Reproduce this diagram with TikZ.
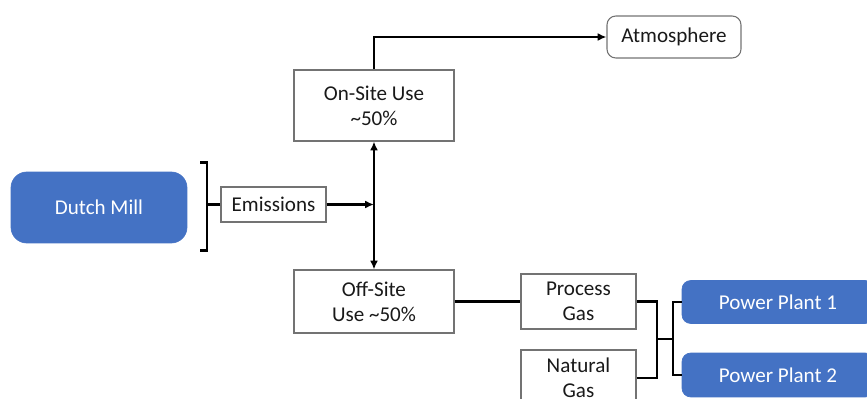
\documentclass[tikz,border=0pt]{standalone}
\usepackage{fontspec}
\setmainfont{Carlito}
\usetikzlibrary{arrows.meta}
\definecolor{millblue}{HTML}{4472C4}
\begin{document}
\begin{tikzpicture}[x=0.02cm,y=-0.02cm,
    every node/.style={font=\fontsize{12}{14.2}\selectfont, align=center, inner sep=0pt},
    box/.style={draw=black!55, line width=0.6pt, text=black!90},
    bluebox/.style={fill=millblue, draw=millblue, text=white, rounded corners=5pt},
    conn/.style={line width=1.4pt},
    arr/.style={conn, -{Latex[length=5pt,width=4.5pt]}},
    darr/.style={conn, {Latex[length=5pt,width=4.5pt]}-{Latex[length=5pt,width=4.5pt]}}]
        \useasboundingbox (0,0) rectangle (867,399);
        \clip (0,0) rectangle (867,399);

        % The Source (Mill and its Emissions)
        \node[bluebox, rounded corners=9pt, minimum width=3.52cm, minimum height=1.42cm] (mill) at (99,207.5) {Dutch Mill};
        \node[box, minimum width=2.1cm, minimum height=0.7cm] (emis) at (273.5,204.5) {Emissions};
        \coordinate (brk) at (207,204.5);
        \draw[conn] (emis.west) -- (brk);
        \draw[conn] (brk) ++(-7,-42) -- ++(7,0) -- ++(0,88) -- ++(-7,0);

        % The Split (On-Site / Off-Site)
        \node[box, minimum width=3.2cm, minimum height=1.42cm] (onsite) at (374,105.5) {On-Site Use\\\textasciitilde50\%};
        \node[box, minimum width=3.2cm, minimum height=1.26cm] (offsite) at (374,301.5) {Off-Site\\Use \textasciitilde50\%};
        \node[box, rounded corners=5pt, minimum width=2.68cm, minimum height=0.84cm] (atmos) at (674,37) {Atmosphere};
        \coordinate (junc) at (onsite.south |- emis.east);
        \draw[arr] (emis.east) -- (junc);
        \draw[darr] (onsite.south) -- (offsite.north);
        \draw[arr] (onsite.north) |- (atmos.west);

        % The Gases (Process/Natural)
        \node[box, minimum width=2.3cm, minimum height=1.1cm] (proc) at (578.5,301.5) {Process\\Gas};
        \node[box, minimum width=2.3cm, minimum height=1.12cm] (natgas) at (578.5,378) {Natural\\Gas};
        \draw[conn] (offsite.east) -- (proc.west);

        % The Plants (Outputs)
        \node[bluebox, minimum width=3.84cm, minimum height=0.86cm] (plant1) at (778,302) {Power Plant 1};
        \node[bluebox, minimum width=3.84cm, minimum height=0.88cm] (plant2) at (778,375) {Power Plant 2};
        \coordinate (gasj) at (657,339);
        \coordinate (plantj) at (673,339);
        \draw[conn] (proc.east) -| (gasj);
        \draw[conn] (natgas.east) -| (gasj);
        \draw[conn] (gasj) -- (plantj);
        \draw[conn] (plant1.west) -| (plantj);
        \draw[conn] (plant2.west) -| (plantj);
\end{tikzpicture}
\end{document}
